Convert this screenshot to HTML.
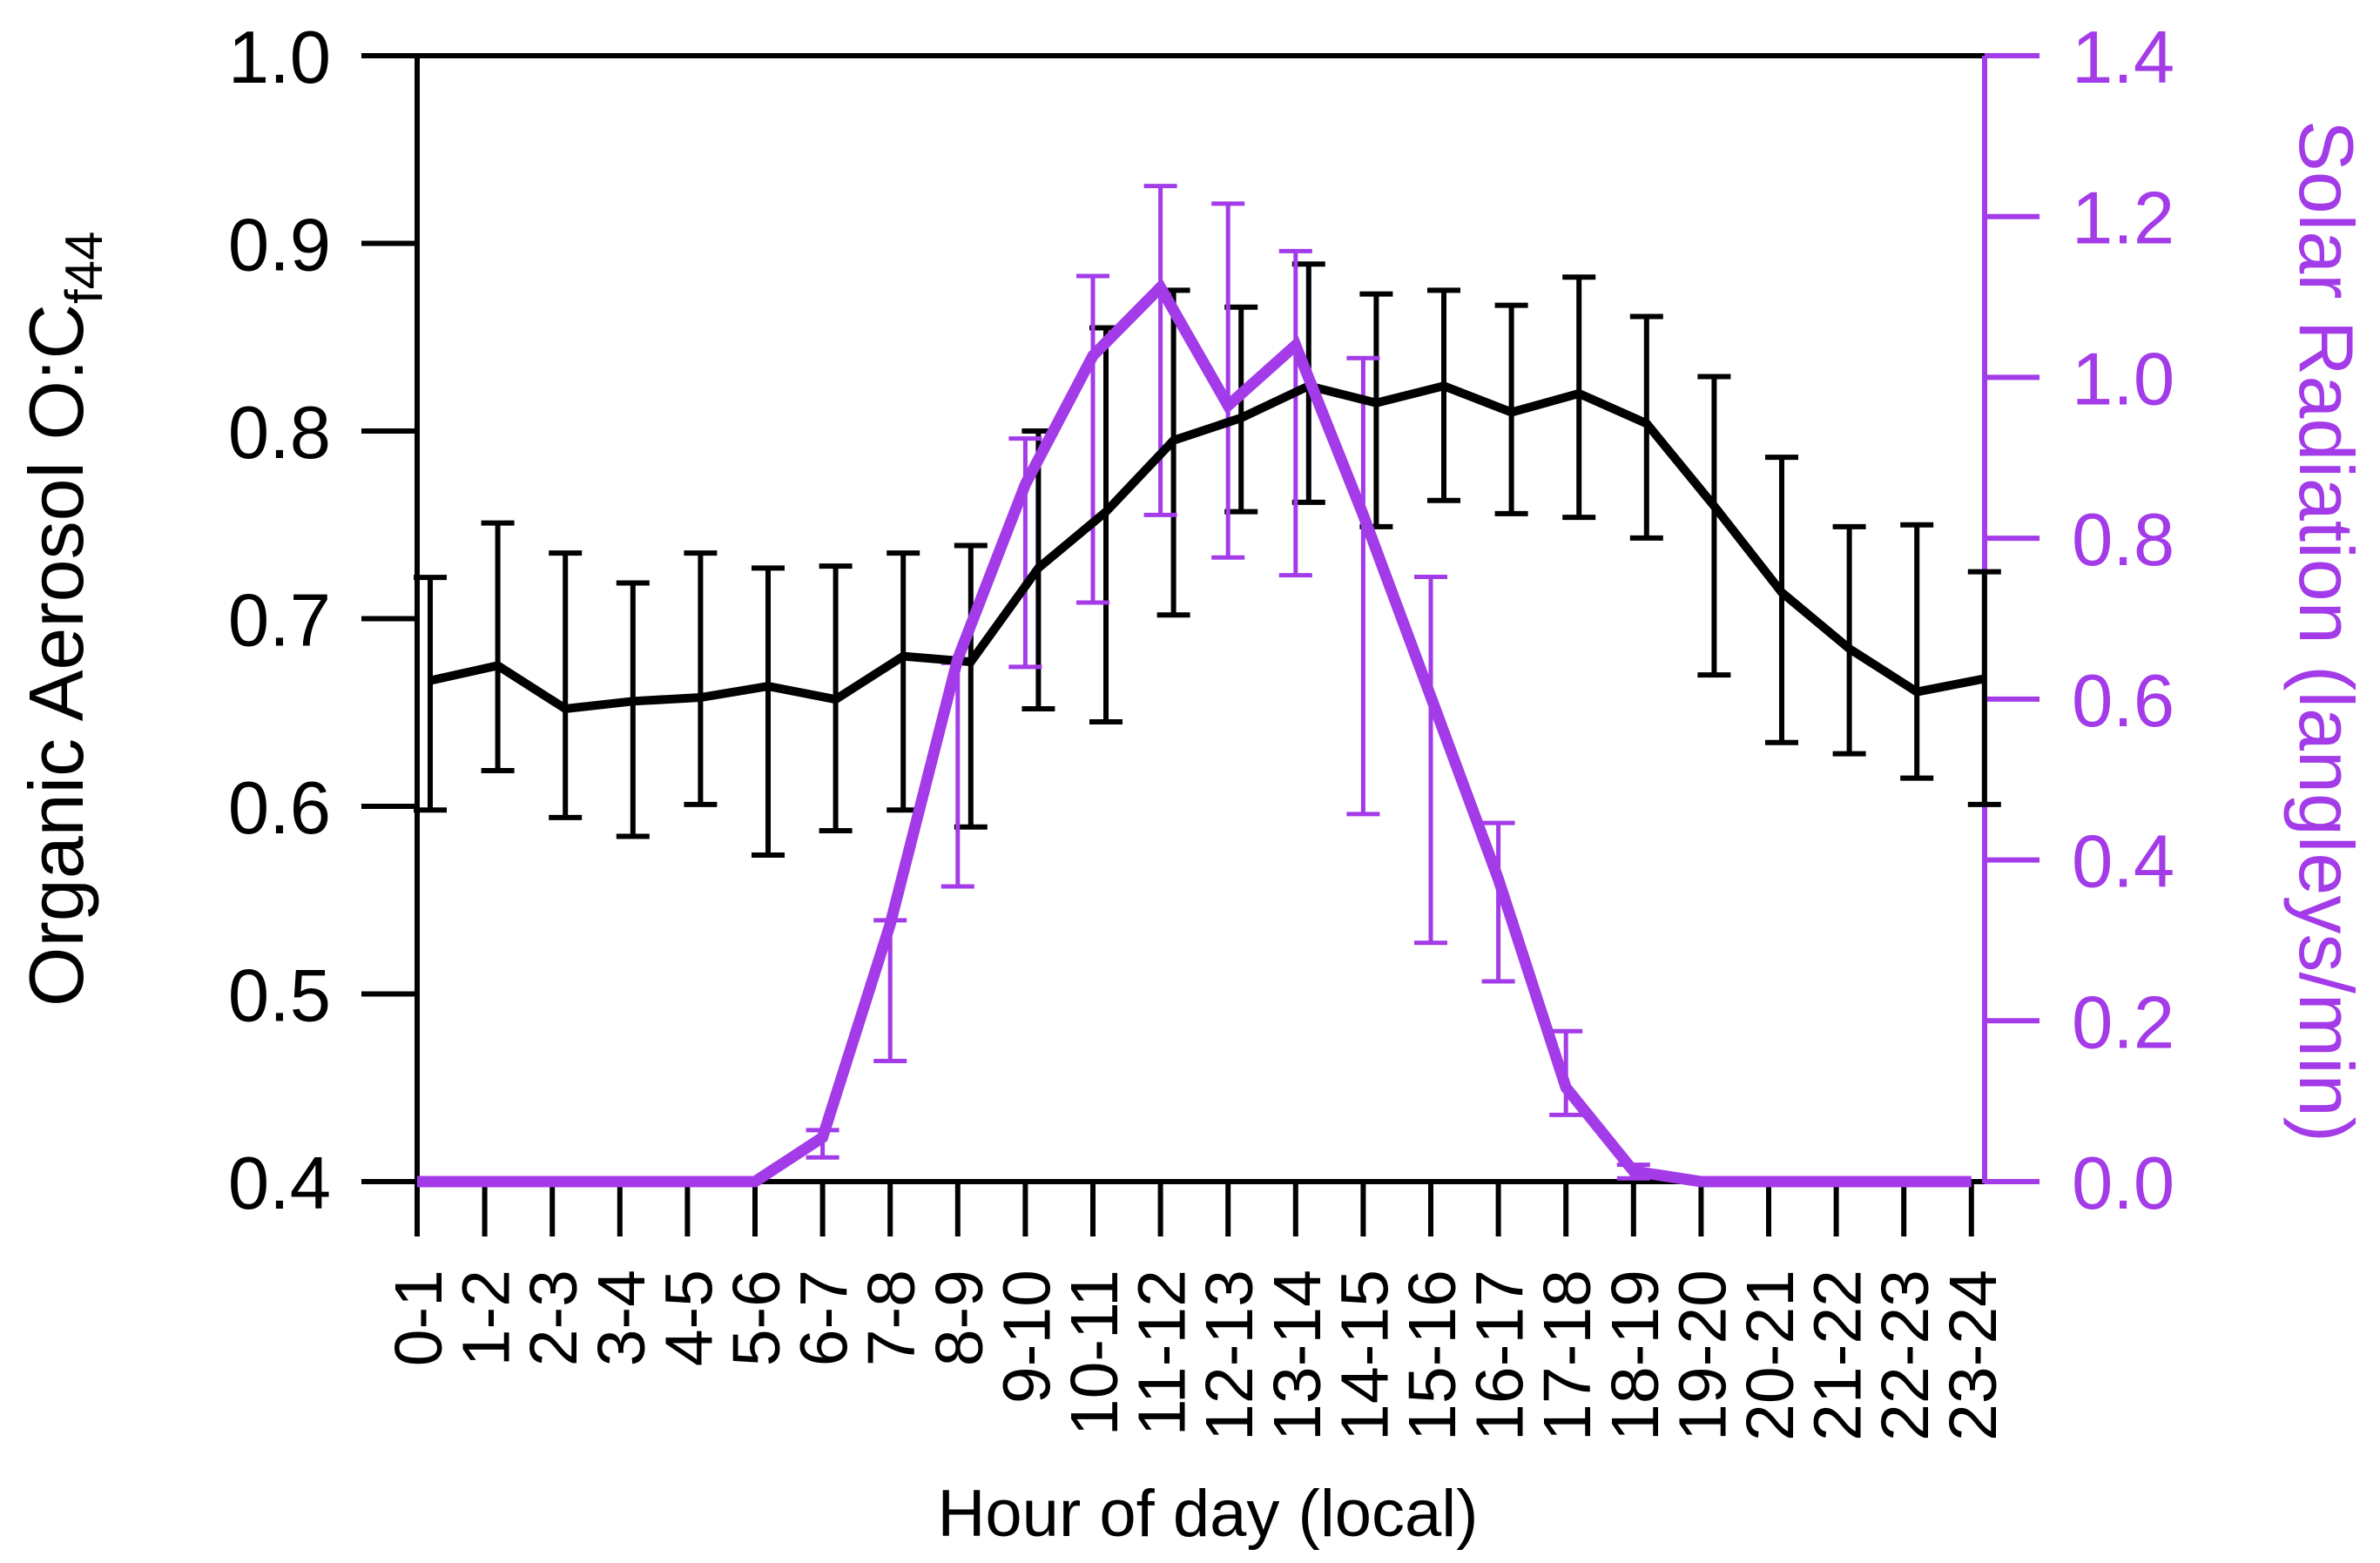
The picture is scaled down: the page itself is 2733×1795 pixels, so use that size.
<!DOCTYPE html>
<html><head><meta charset="utf-8"><style>
html,body{margin:0;padding:0;background:#fff}
svg{display:block}
text{font-family:"Liberation Sans",Arial,sans-serif}
</style></head><body>
<svg id="chart" width="2733" height="1795" viewBox="0 0 2733 1795" xmlns="http://www.w3.org/2000/svg">
<g id="axes"></g>
<g id="series"></g>
<text transform="translate(95,1156) rotate(-90)" font-size="88" fill="#000">Organic Aerosol O:C<tspan font-size="60" dy="22">f44</tspan></text>
<text transform="translate(2641,138) rotate(90)" font-size="88" fill="#a33be8">Solar Radiation (langleys/min)</text>
<text x="1387" y="1764" text-anchor="middle" font-size="76" fill="#000">Hour of day (local)</text>
</svg>
<script>
const categories=["0-1","1-2","2-3","3-4","4-5","5-6","6-7","7-8","8-9","9-10","10-11","11-12","12-13","13-14","14-15","15-16","16-17","17-18","18-19","19-20","20-21","21-22","22-23","23-24"];
const ocValues=[0.667,0.675,0.652,0.656,0.658,0.664,0.657,0.680,0.677,0.727,0.757,0.795,0.807,0.824,0.815,0.824,0.810,0.820,0.804,0.760,0.714,0.684,0.661,0.668];
const ocHigh=[0.722,0.751,0.735,0.719,0.735,0.727,0.728,0.735,0.739,0.800,0.855,0.875,0.866,0.889,0.873,0.875,0.867,0.882,0.861,0.829,0.786,0.749,0.750,0.725];
const ocLow=[0.598,0.619,0.594,0.584,0.601,0.574,0.587,0.598,0.589,0.652,0.645,0.702,0.757,0.762,0.749,0.763,0.756,0.754,0.743,0.670,0.634,0.628,0.615,0.601];
const solarValues=[0,0,0,0,0,0,0.055,0.32,0.65,0.867,1.027,1.112,0.965,1.04,0.829,0.603,0.376,0.117,0.013,0,0,0,0,0];
const solarHigh=[null,null,null,null,null,null,0.064,0.325,0.645,0.924,1.126,1.238,1.216,1.157,1.024,0.752,0.446,0.187,0.021,null,null,null,null,null];
const solarLow=[null,null,null,null,null,null,0.03,0.15,0.367,0.64,0.72,0.829,0.776,0.754,0.457,0.297,0.249,0.083,0.004,null,null,null,null,null];
const leftTicks=[0.4,0.5,0.6,0.7,0.8,0.9,1.0];
const rightTicks=[0.0,0.2,0.4,0.6,0.8,1.0,1.2,1.4];

const NS="http://www.w3.org/2000/svg";
const PURPLE="#a33be8";
const X0=479,X1=2279,XSTEP=77.6,YT=64,YB=1357;
function xPos(i){return X0+i*XSTEP;}
function yLeft(v){return YB-(v-0.4)/0.6*(YB-YT);}
function yRight(v){return YB-v/1.4*(YB-YT);}
function mk(tag,attrs,parent){const e=document.createElementNS(NS,tag);for(const k in attrs)e.setAttribute(k,attrs[k]);parent.appendChild(e);return e;}
const axes=document.getElementById('axes');
const series=document.getElementById('series');

let e;
e=mk('line',{x1:X0,y1:YT-3,x2:X0,y2:YB+3,stroke:'#000','stroke-width':6},axes);


e=mk('line',{x1:415,y1:YT,x2:X1,y2:YT,stroke:'#000','stroke-width':6},axes);


e=mk('line',{x1:X0,y1:YB,x2:X1,y2:YB,stroke:'#000','stroke-width':6},axes);


e=mk('line',{x1:X1,y1:YT,x2:X1,y2:YB+2,stroke:PURPLE,'stroke-width':6},axes);



leftTicks.forEach(v=>{
  const y=yLeft(v);
  const t=mk('line',{x1:415,y1:y,x2:X0,y2:y,stroke:'#000','stroke-width':6},axes);
  
  
  const l=mk('text',{x:380,y:y+31,'text-anchor':'end','font-size':85,fill:'#000'},axes);
  l.textContent=v.toFixed(1);
  
  
});
rightTicks.forEach(v=>{
  const y=yRight(v);
  const t=mk('line',{x1:X1,y1:y,x2:2342,y2:y,stroke:PURPLE,'stroke-width':6},axes);
  
  
  const l=mk('text',{x:2379,y:y+31,'font-size':85,fill:PURPLE},axes);
  l.textContent=v.toFixed(1);
  
  
});
categories.forEach((c,i)=>{
  const x=xPos(i);
  const t=mk('line',{x1:x,y1:YB,x2:x,y2:1420,stroke:'#000','stroke-width':6},axes);
  
  
  const l=mk('text',{transform:`translate(${x+28},1458) rotate(-90)`,'text-anchor':'end','font-size':77,fill:'#000'},axes);
  l.textContent=c;
  
  
});

const OFF=15;
categories.forEach((c,i)=>{
  const x=xPos(i)+OFF, yh=yLeft(ocHigh[i]), yl=yLeft(ocLow[i]);
  const g=mk('g',{stroke:'#000','stroke-width':6},series);
  
  
  mk('line',{x1:x,y1:yh,x2:x,y2:yl},g);
  mk('line',{x1:x-19,y1:yh,x2:x+19,y2:yh},g);
  mk('line',{x1:x-19,y1:yl,x2:x+19,y2:yl},g);
});
categories.forEach((c,i)=>{
  if(solarHigh[i]==null)return;
  const x=xPos(i), yh=yRight(solarHigh[i]), yl=yRight(solarLow[i]);
  const g=mk('g',{stroke:PURPLE,'stroke-width':5},series);
  
  
  mk('line',{x1:x,y1:yh,x2:x,y2:yl},g);
  mk('line',{x1:x-19,y1:yh,x2:x+19,y2:yh},g);
  mk('line',{x1:x-19,y1:yl,x2:x+19,y2:yl},g);
});
const ocPts=ocValues.map((v,i)=>`${xPos(i)+OFF},${yLeft(v)}`).join(' ');
const ocLine=mk('polyline',{points:ocPts,fill:'none',stroke:'#000','stroke-width':10,'stroke-linejoin':'miter'},series);


const sPts=solarValues.map((v,i)=>`${xPos(i)},${yRight(v)}`).join(' ');
const sLine=mk('polyline',{points:sPts,fill:'none',stroke:PURPLE,'stroke-width':13,'stroke-linejoin':'miter'},series);


</script>
</body></html>
